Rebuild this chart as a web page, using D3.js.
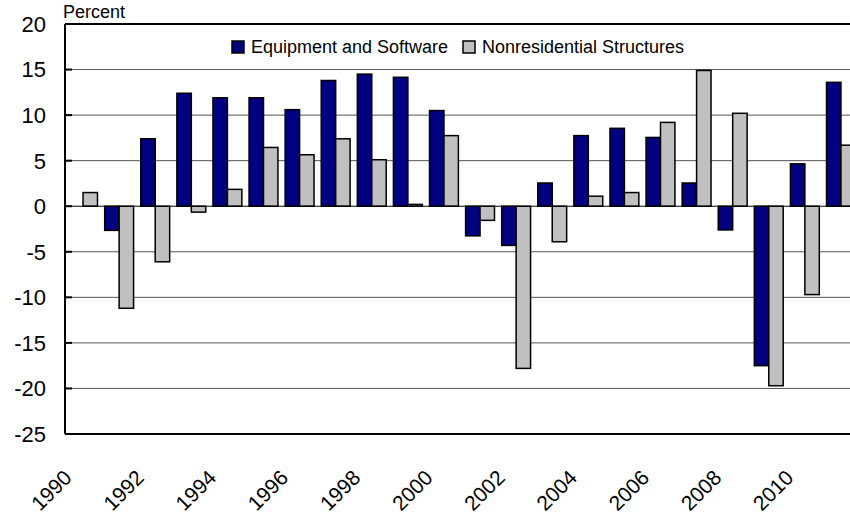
<!DOCTYPE html>
<html>
<head>
<meta charset="utf-8">
<script src="https://cdn.jsdelivr.net/npm/d3@7"></script>
<style>
  body { margin: 0; background: #fff; }
  svg { display: block; font-family: Arial, "Liberation Sans", sans-serif; }
</style>
</head>
<body>
<div id="chart"></div>
<script>
var years = [1990, 1991, 1992, 1993, 1994, 1995, 1996, 1997, 1998, 1999, 2000,
             2001, 2002, 2003, 2004, 2005, 2006, 2007, 2008, 2009, 2010, 2011];
var equipment = [null, -2.65, 7.4, 12.4, 11.9, 11.9, 10.6, 13.8, 14.5, 14.15, 10.5,
                 -3.25, -4.3, 2.55, 7.75, 8.55, 7.55, 2.55, -2.6, -17.5, 4.65, 13.6];
var structures = [1.5, -11.2, -6.1, -0.65, 1.85, 6.45, 5.65, 7.4, 5.1, 0.2, 7.75,
                  -1.55, -17.8, -3.9, 1.1, 1.5, 9.2, 14.9, 10.2, -19.7, -9.7, 6.7];
var seriesNames = ["Equipment and Software", "Nonresidential Structures"];
var seriesColors = ["#000080", "#c0c0c0"];
var yTicks = [20, 15, 10, 5, 0, -5, -10, -15, -20, -25];

var width = 850, height = 520;
var plotLeft = 65, plotRight = 859, plotTop = 24, plotBottom = 434;

var svg = d3.select("#chart").append("svg")
  .attr("width", width)
  .attr("height", height);

var x0 = d3.scaleBand()
  .domain(years)
  .range([plotLeft, plotRight])
  .paddingInner(0.2)
  .paddingOuter(0.1);

var x1 = d3.scaleBand()
  .domain([0, 1])
  .range([0, x0.bandwidth()]);

var y = d3.scaleLinear()
  .domain([-25, 20])
  .range([plotBottom, plotTop]);

// gridlines
svg.append("g")
  .selectAll("line")
  .data(yTicks.filter(function (d) { return d != 20 && d != -25 && d != 0; }))
  .enter()
  .append("line")
  .attr("x1", plotLeft)
  .attr("x2", plotRight)
  .attr("y1", function (d) { return y(d); })
  .attr("y2", function (d) { return y(d); })
  .attr("stroke", "#555")
  .attr("stroke-width", 1);

// bars
var rows = years.map(function (yr, i) {
  return { year: yr, values: [equipment[i], structures[i]] };
});

var groups = svg.append("g")
  .selectAll("g")
  .data(rows)
  .enter()
  .append("g")
  .attr("transform", function (d) { return "translate(" + x0(d.year) + ",0)"; });

groups.selectAll("rect")
  .data(function (d) {
    return d.values.map(function (v, k) { return { k: k, v: v }; })
      .filter(function (e) { return e.v !== null; });
  })
  .enter()
  .append("rect")
  .attr("x", function (d) { return x1(d.k); })
  .attr("width", x1.bandwidth())
  .attr("y", function (d) { return y(Math.max(0, d.v)); })
  .attr("height", function (d) { return Math.abs(y(d.v) - y(0)); })
  .attr("fill", function (d) { return seriesColors[d.k]; })
  .attr("stroke", "#000")
  .attr("stroke-width", 1.5);

// zero line
svg.append("line")
  .attr("x1", plotLeft).attr("x2", plotRight)
  .attr("y1", y(0)).attr("y2", y(0))
  .attr("stroke", "#000")
  .attr("stroke-width", 1);

// frame: left axis, top and bottom border
svg.append("line")
  .attr("x1", plotLeft).attr("x2", plotLeft)
  .attr("y1", plotTop).attr("y2", plotBottom)
  .attr("stroke", "#000").attr("stroke-width", 2);
svg.append("line")
  .attr("x1", plotLeft).attr("x2", plotRight)
  .attr("y1", plotTop).attr("y2", plotTop)
  .attr("stroke", "#000").attr("stroke-width", 2);
svg.append("line")
  .attr("x1", plotLeft).attr("x2", plotRight)
  .attr("y1", plotBottom).attr("y2", plotBottom)
  .attr("stroke", "#000").attr("stroke-width", 2);

// y tick marks (inside) and labels
svg.append("g")
  .selectAll("line")
  .data(yTicks)
  .enter()
  .append("line")
  .attr("x1", plotLeft).attr("x2", plotLeft + 7)
  .attr("y1", function (d) { return y(d); })
  .attr("y2", function (d) { return y(d); })
  .attr("stroke", "#000").attr("stroke-width", 2);

svg.append("g")
  .selectAll("text")
  .data(yTicks)
  .enter()
  .append("text")
  .attr("x", 46)
  .attr("y", function (d) { return y(d); })
  .attr("dy", "0.36em")
  .attr("text-anchor", "end")
  .attr("font-size", "22px")
  .attr("fill", "#000")
  .text(function (d) { return d; });

svg.append("text")
  .attr("x", 63)
  .attr("y", 18)
  .attr("font-size", "18px")
  .text("Percent");

// x labels, every other year
svg.append("g")
  .selectAll("text")
  .data(years.filter(function (d) { return d % 2 == 0; }))
  .enter()
  .append("text")
  .attr("text-anchor", "end")
  .attr("font-size", "21px")
  .attr("transform", function (d) {
    var cx = x0(d) + x0.bandwidth() / 2 - 10;
    return "translate(" + cx + ",479) rotate(-45)";
  })
  .text(function (d) { return d; });

// legend
var legendX = [232, 463];
var legend = svg.append("g")
  .selectAll("g")
  .data(seriesNames)
  .enter()
  .append("g")
  .attr("transform", function (d, i) { return "translate(" + legendX[i] + ",41)"; });

legend.append("rect")
  .attr("width", 12).attr("height", 12)
  .attr("fill", function (d, i) { return seriesColors[i]; })
  .attr("stroke", "#000").attr("stroke-width", 1.5);

legend.append("text")
  .attr("x", 19)
  .attr("y", 12)
  .attr("font-size", "18px")
  .text(function (d) { return d; });
</script>
</body>
</html>
